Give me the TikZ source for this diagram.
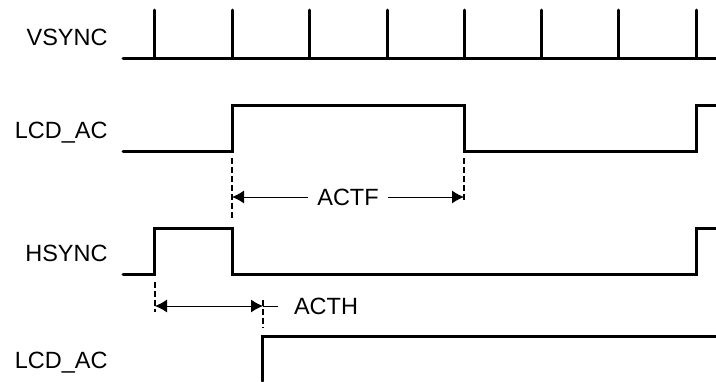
\documentclass[tikz,border=0pt]{standalone}
\usepackage{fontspec}
\setmainfont{Liberation Sans}
\usepackage{tikz}
\usetikzlibrary{arrows.meta}
\newcommand{\sigfont}{\fontsize{11.75}{14}\selectfont}

\begin{document}
\begin{tikzpicture}[x=0.5pt,y=-0.5pt,>={Latex[length=6pt,width=6.5pt]}]
\tikzstyle{sig}=[line width=1.5pt, line cap=round, line join=miter]
\tikzstyle{lbl}=[anchor=base east, inner sep=0pt, font=\sigfont]
\tikzstyle{guide}=[line width=0.6pt, dash pattern=on 3pt off 1.5pt]
\tikzstyle{dim}=[line width=0.5pt]
\tikzstyle{ann}=[inner xsep=4.5pt, inner ysep=0pt, font=\sigfont]

\useasboundingbox (0,0) rectangle (716,381);

% signal names
\node (vsync) [lbl] at (108,45) {VSYNC};
\node (lcdf) [lbl] at (108,138.5) {LCD\_AC};
\node (hsync) [lbl] at (108,261) {HSYNC};
\node (lcdh) [lbl] at (108,368) {LCD\_AC};

% waveforms
\draw [sig] (123,58) -- (716,58);
\foreach \x in {154,232,309,387,464,541,618,696}
  \draw [sig] (\x,58) -- (\x,10);
\draw [sig] (123,151) -- (232,151) -- (232,105) -- (464,105) -- (464,151)
  -- (696,151) -- (696,105) -- (716,105);
\draw [sig] (123,274) -- (154,274) -- (154,228) -- (232,228) -- (232,274)
  -- (696,274) -- (696,228) -- (716,228);
\draw [sig] (262,381) -- (262,336) -- (716,336);

% ACTF
\coordinate (f1) at (232,197);
\coordinate (f2) at (464,197);
\draw [guide] (232,158) -- (232,218);
\draw [guide] (464,158) -- (464,203);
\node (actf) [ann] at (348,197) {ACTF};
\path [draw, dim, ->] (actf) -- (f1);
\path [draw, dim, ->] (actf) -- (f2);

% ACTH
\coordinate (h1) at (155,306);
\coordinate (h2) at (263,306);
\coordinate (h3) at (278,306);
\draw [guide] (155,282) -- (155,312);
\draw [guide] (263,300) -- (263,328);
\path [draw, dim, <->] (h1) -- (h2);
\path [draw, dim] (h2) -- (h3);
\node (acth) [ann] at (326,306) {ACTH};
\end{tikzpicture}
\end{document}
